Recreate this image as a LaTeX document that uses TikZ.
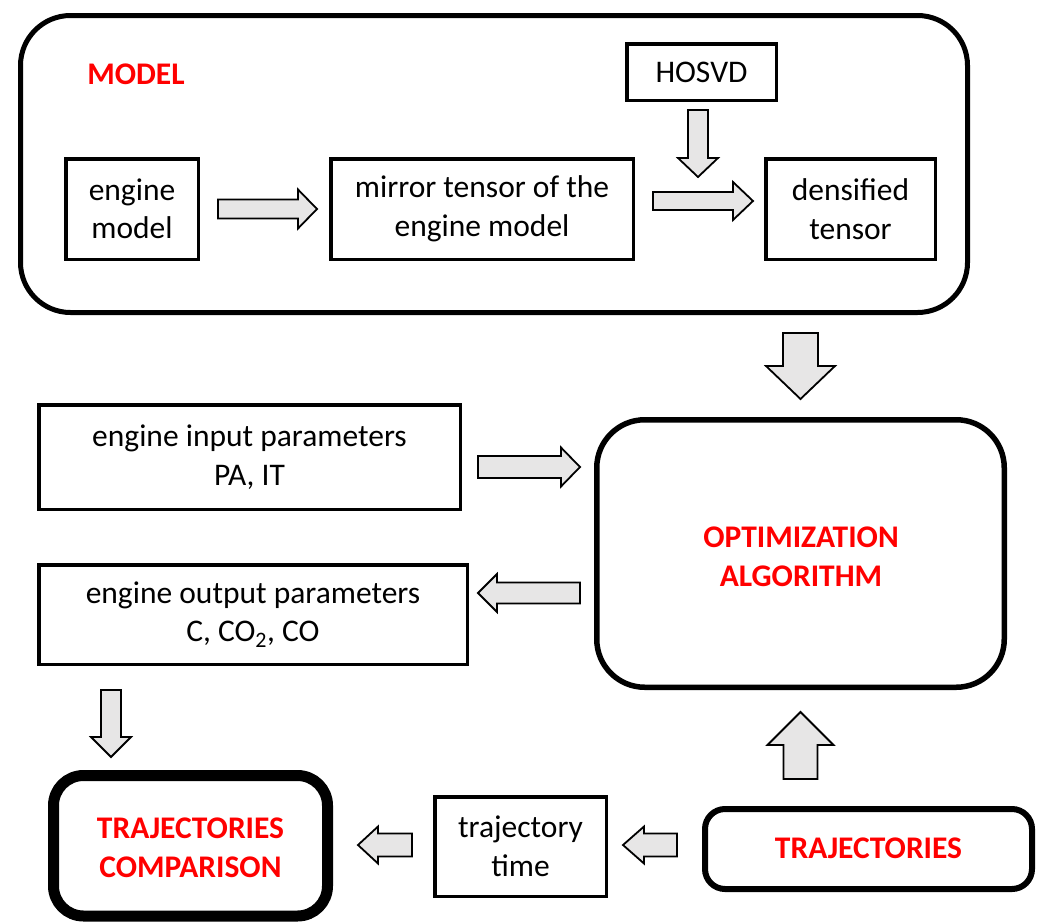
\documentclass[tikz,border=0pt]{standalone}
\usepackage{fontspec}
\setmainfont{Carlito}
\usetikzlibrary{calc}
\definecolor{txtred}{RGB}{255,0,0}
\definecolor{arrowfill}{RGB}{231,230,230}
% #1 from, #2 to, #3 shaft half width, #4 head half width, #5 head length
\newcommand\blockarrow[5]{%
  \coordinate (bac) at ($(#2)!#5!(#1)$);
  \draw[blk] ($(#1)!#3!90:(#2)$) -- ($(bac)!#3!90:(#2)$) -- ($(bac)!#4!90:(#2)$)
    -- (#2) -- ($(bac)!#4!-90:(#2)$) -- ($(bac)!#3!-90:(#2)$) -- ($(#1)!#3!-90:(#2)$) -- cycle;}
\begin{document}
\begin{tikzpicture}[x=1pt,y=-1pt,
  every node/.style={font=\fontsize{31.5}{38.5}\selectfont, inner sep=0pt, align=center},
  box/.style={draw, line width=3.5pt},
  redlbl/.style={text=txtred, font=\fontsize{31.5}{38.5}\selectfont\bfseries},
  blk/.style={draw, fill=arrowfill, line width=1.8pt, line join=miter}]
\useasboundingbox (0,0) rectangle (1041,921);

% MODEL group
\node[draw, line width=5pt, rounded corners=50pt, minimum width=947pt, minimum height=297pt] (model) at (494,164) {};
\node[redlbl] (modellbl) at (136,74) {MODEL};
\node[box, minimum width=132.5pt, minimum height=100.5pt] (em) at (132,209) {engine\\model};
\node[box, minimum width=302.5pt, minimum height=100.5pt] (mt) at (482,209) {mirror tensor of the\\engine model};
\node[box, minimum width=149.5pt, minimum height=56.5pt] (hosvd) at (701.5,72) {HOSVD};
\node[box, minimum width=169.5pt, minimum height=100.5pt] (dt) at (850.5,209) {densified\\tensor};

% optimization
\node[draw, line width=5.5pt, rounded corners=48pt, minimum width=407.5pt, minimum height=267.5pt] (opt) at (800.5,553.5) {};
\node[redlbl] (optlbl) at (801,557) {OPTIMIZATION\\ALGORITHM};

% parameters
\node[box, minimum width=421.5pt, minimum height=104.5pt] (inp) at (249.5,457) {engine input parameters\\PA, IT};
\node[box, minimum width=428.5pt, minimum height=99.5pt] (outp) at (253,614.5) {engine output parameters\\C, CO\textsubscript{2}, CO};

% bottom row
\node[draw, line width=11pt, rounded corners=30pt, minimum width=274pt, minimum height=140.5pt] (comp) at (190.5,845.75) {};
\node[redlbl] (complbl) at (190.5,848) {TRAJECTORIES\\COMPARISON};
\node[box, minimum width=171.5pt, minimum height=99.5pt] (tt) at (520.5,846.5) {trajectory\\time};
\node[draw, line width=6pt, rounded corners=20pt, minimum width=327pt, minimum height=80pt] (traj) at (868.5,849) {};
\node[redlbl] (trajlbl) at (868.5,848) {TRAJECTORIES};

% block arrows
\coordinate (a1s) at ($(em.east)+(18,0)$);
\coordinate (a1e) at ($(mt.west)+(-12,0)$);
\blockarrow{a1s}{a1e}{9.5pt}{19.5pt}{19pt}
\coordinate (a2s) at ($(hosvd.south)+(-3.5,8)$);
\coordinate (a2e) at ($(hosvd.south)+(-3.5,75)$);
\blockarrow{a2s}{a2e}{10pt}{20pt}{19pt}
\coordinate (a3s) at ($(mt.east)+(18,-8)$);
\coordinate (a3e) at ($(dt.west)+(-11,-8)$);
\blockarrow{a3s}{a3e}{9pt}{19pt}{20pt}
\coordinate (a4s) at ($(model.south -| opt.north)+(0,18)$);
\coordinate (a4e) at ($(opt.north)+(0,-18)$);
\blockarrow{a4s}{a4e}{17.5pt}{34.5pt}{33pt}
\coordinate (a5s) at ($(inp.east)+(16,10)$);
\coordinate (a5e) at ($(inp.east -| opt.west)+(-14,10)$);
\blockarrow{a5s}{a5e}{11pt}{19.5pt}{19pt}
\coordinate (a6s) at ($(outp.east -| opt.west)+(-14,-21.5)$);
\coordinate (a6e) at ($(outp.east)+(9,-21.5)$);
\blockarrow{a6s}{a6e}{10.5pt}{19pt}{19pt}
\coordinate (a7s) at ($(outp.south)+(-142,24)$);
\coordinate (a7e) at ($(comp.north)+(-79.5,-13)$);
\blockarrow{a7s}{a7e}{10pt}{20pt}{20pt}
\coordinate (a8s) at ($(traj.north -| opt.south)+(0,-27)$);
\coordinate (a8e) at ($(opt.south)+(0,22)$);
\blockarrow{a8s}{a8e}{17pt}{33pt}{33pt}
\coordinate (a9s) at ($(traj.west)+(-25,-4)$);
\coordinate (a9e) at ($(tt.east)+(15,-1.5)$);
\blockarrow{a9s}{a9e}{11.5pt}{18.5pt}{21pt}
\coordinate (a10s) at ($(tt.west)+(-21,-1.5)$);
\coordinate (a10e) at ($(comp.east)+(25,-0.75)$);
\blockarrow{a10s}{a10e}{11.5pt}{18.5pt}{20pt}
\end{tikzpicture}
\end{document}
